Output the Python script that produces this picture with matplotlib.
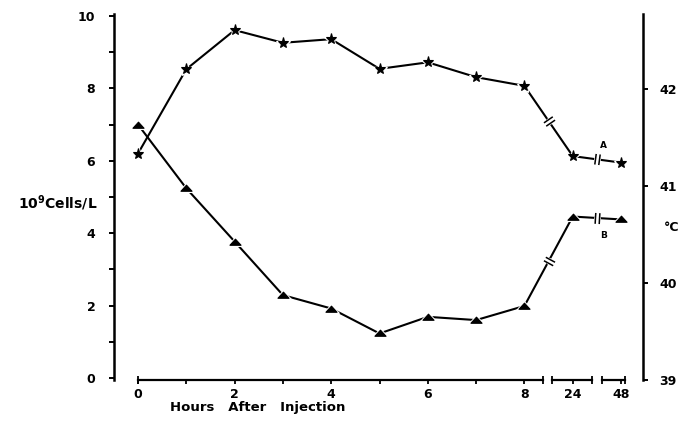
import numpy as np
import matplotlib.pyplot as plt
from matplotlib.path import Path
from matplotlib.transforms import blended_transform_factory

plt.rcParams["font.family"] = ["DejaVu Sans"]
plt.rcParams["font.weight"] = "bold"
plt.rcParams["mathtext.default"] = "bf"

# x positions: hours 0-8 evenly spaced, then 24 h and 48 h after axis breaks
x_pos = [0, 1, 2, 3, 4, 5, 6, 7, 8, 9, 10]
x_labels = ["0", "", "2", "", "4", "", "6", "", "8", "24", "48"]

# cell counts, 10^9 cells/L
curve_a = [6.20, 8.53, 9.61, 9.26, 9.36, 8.54, 8.72, 8.31, 8.07, 6.13, 5.95]
curve_b = [7.00, 5.24, 3.77, 2.29, 1.92, 1.23, 1.69, 1.60, 1.99, 4.46, 4.38]

left_ticks = list(range(0, 11))
left_labels = ["0", "", "2", "", "4", "", "6", "", "8", "", "10"]
temp_ticks = [39, 40, 41, 42]

# pieces of the broken time axis
axis_pieces = [(0, 8.38), (8.57, 9.40), (9.61, 10.08)]

# flattened triangle marker
flat_tri = Path([(-1, -0.5), (1, -0.5), (0, 0.6), (-1, -0.5)],
                [Path.MOVETO, Path.LINETO, Path.LINETO, Path.CLOSEPOLY])

fig = plt.figure(figsize=(6.83, 4.34), dpi=100)
ax = fig.add_axes([114 / 683, 54 / 434, 529 / 683, 366 / 434])
ax.set_xlim(-0.497, 10.455)
ax.set_ylim(-0.055, 10.055)

for side in ["top", "bottom", "right"]:
    ax.spines[side].set_visible(False)
ax.spines["left"].set_linewidth(1.8)

ax.set_yticks(left_ticks)
ax.set_yticklabels(left_labels, fontsize=9, fontweight="bold")
ax.tick_params(axis="y", direction="out", length=3.5, width=1.4, pad=10)
ax.set_xticks(x_pos)
ax.set_xticklabels(x_labels, fontsize=9, fontweight="bold")
ax.tick_params(axis="x", direction="out", length=3, width=1.3, pad=3)

# broken x axis drawn piece by piece
blend = blended_transform_factory(ax.transData, ax.transAxes)
for x0, x1 in axis_pieces:
    ax.plot([x0, x1], [0, 0], color="black", lw=1.6, transform=blend, clip_on=False)
    ax.plot([x0, x1], [0, 0], ls="none", marker="|", ms=6, mew=1.3,
            color="black", transform=blend, clip_on=False)

# right-hand temperature scale
ax2 = ax.twinx()
ax2.set_ylim(39, 42.77)
for side in ["top", "bottom", "left"]:
    ax2.spines[side].set_visible(False)
ax2.spines["right"].set_linewidth(1.8)
ax2.set_yticks(temp_ticks)
ax2.set_yticklabels([str(t) for t in temp_ticks], fontsize=9, fontweight="bold")
ax2.tick_params(axis="y", direction="out", length=3.5, width=1.4, pad=8)


def draw_curve(y, marker, ms):
    ax.plot(x_pos, y, color="black", lw=1.5, zorder=2)
    ax.plot(x_pos, y, ls="none", marker=marker, ms=ms + 3, color="white", zorder=3)
    ax.plot(x_pos, y, ls="none", marker=marker, ms=ms, color="black",
            mew=0.8, zorder=4)


def break_mark(xa, ya, xb, yb):
    # two short strokes across the segment between two points, with a gap
    pa = ax.transData.transform((xa, ya))
    pb = ax.transData.transform((xb, yb))
    d = (pb - pa) / np.hypot(*(pb - pa))
    n = np.array([-d[1], d[0]])
    verts, codes = [], []
    for s in (-0.3, 0.3):
        c = s * d
        verts += [tuple(c - 0.8 * n), tuple(c + 0.8 * n)]
        codes += [Path.MOVETO, Path.LINETO]
    xm, ym = (xa + xb) / 2, (ya + yb) / 2
    ax.plot([xm], [ym], marker="o", ms=5, color="white", mew=0, zorder=3)
    ax.plot([xm], [ym], marker=Path(verts, codes), ms=8, mew=1.1,
            color="black", fillstyle="none", zorder=4)


draw_curve(curve_a, "*", 8)
draw_curve(curve_b, flat_tri, 8)
for y in (curve_a, curve_b):
    break_mark(x_pos[8], y[8], x_pos[9], y[9])
    break_mark(x_pos[9], y[9], x_pos[10], y[10])

ax.text(9.63, 6.41, "A", fontsize=6.5, fontweight="bold", ha="center", va="center")
ax.text(9.63, 3.95, "B", fontsize=6.5, fontweight="bold", ha="center", va="center")

fig.text(97 / 683, 1 - 203 / 434, r"10$^{9}$Cells/L", fontsize=10,
         fontweight="bold", ha="right", va="center")
fig.text(664 / 683, 1 - 228 / 434, "°C", fontsize=9, fontweight="bold",
         ha="left", va="center")
fig.text(258 / 683, 1 - 408 / 434, "Hours   After   Injection", fontsize=9.5,
         fontweight="bold", ha="center", va="center")

fig.savefig("out.png", dpi=100, facecolor="white")
